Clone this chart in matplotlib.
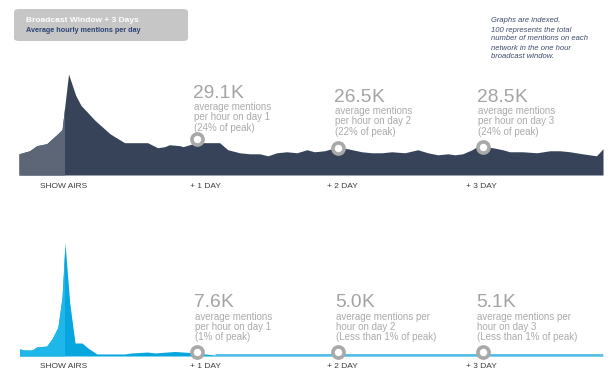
import matplotlib
matplotlib.use("Agg")
import matplotlib.pyplot as plt
from matplotlib.patches import FancyBboxPatch, Rectangle

plt.rcParams['font.family'] = ['Liberation Sans', 'DejaVu Sans']

W, H = 615, 384

# indexed mentions, hours relative to the show (0 = show airs)
top_hours = [-7.6, -5.8, -4.6, -2.9, -1.0, -0.3, 0.8, 2.0, 2.9, 5.3, 7.8, 8.6, 10.3,
             12.0, 14.2, 15.9, 17.1, 17.9, 19.7, 20.2, 21.9, 23.6, 26.4, 27.8, 29.8,
             31.5, 33.2, 34.6, 36.1, 37.8, 39.5, 41.2, 42.5, 44.2, 45.4, 46.4, 48.1,
             50.5, 52.2, 53.9, 55.6, 57.8, 60.0, 61.7, 63.4, 65.1, 66.3, 67.6, 69.2,
             70.0, 71.0, 72.7, 74.4, 75.6, 77.8, 80.2, 82.4, 84.1, 85.8, 87.9, 90.3, 91.4]
top_index = [21, 24, 29, 31, 41, 45, 100, 79, 69, 54, 41, 38, 32,
             32, 32, 27, 28, 30, 29, 28, 31, 32, 32, 25, 22,
             21, 21, 19, 22, 23, 22, 25, 23, 24, 26, 27, 26,
             23, 22, 22, 23, 22, 25, 22, 20, 21, 20, 21, 25,
             28, 28, 27, 25, 23, 23, 22, 24, 24, 23, 21, 19, 26]

bottom_hours = [-7.5, -6.6, -5.4, -4.6, -2.9, -1.9, -1.0, -0.3, 0.2, 1.0, 1.9, 3.1,
                4.1, 5.6, 10.3, 11.5, 14.2, 15.4, 18.8, 21.4, 23.1, 25.6, 91.4]
bottom_index = [6.2, 5.3, 5.3, 8.0, 8.8, 16.0, 25.7, 52.0, 100, 47.0, 11.5, 11.5,
                7.0, 1.8, 1.8, 2.7, 3.5, 2.7, 4.0, 3.1, 2.2, 0.9, 0.9]

marker_hours = [22.5, 46.4, 71.0]
top_marker_index = [36, 27, 28]
bottom_marker_index = [3.5, 3.5, 3.5]

top_values = ['29.1', '26.5', '28.5']
top_notes = [['average mentions', 'per hour on day 1', '(24% of peak)'],
             ['average mentions', 'per hour on day 2', '(22% of peak)'],
             ['average mentions', 'per hour on day 3', '(24% of peak)']]
bottom_values = ['7.6', '5.0', '5.1']
bottom_notes = [['average mentions', 'per hour on day 1', '(1% of peak)'],
                ['average mentions per', 'hour on day 2', '(Less than 1% of peak)'],
                ['average mentions per', 'hour on day 3', '(Less than 1% of peak)']]

tick_hours = [0, 24, 47.3, 70.8]
tick_labels = ['SHOW AIRS', '+ 1 DAY', '+ 2 DAY', '+ 3 DAY']

fig = plt.figure(figsize=(W / 100, H / 100), dpi=100)


def fx(x):
    return x / W


def fy(y):
    return 1 - y / H


def make_axes(base_px, peak_px):
    ax = fig.add_axes([fx(19), fy(base_px), 584 / W, (base_px - peak_px) / H])
    ax.set_xlim(-7.6, 91.4)
    ax.set_ylim(0, 100)
    ax.axis('off')
    return ax


# top chart
ax1 = make_axes(175, 74)
dark = ax1.fill_between(top_hours, 0, top_index, color='#364358', lw=0)
light = ax1.fill_between(top_hours, 0, top_index, color='#5c6677', lw=0)
light.set_clip_path(Rectangle((-10, -5), 10, 120, transform=ax1.transData))
ax1.plot(marker_hours, top_marker_index, 'o', ms=8, mfc='white', mec='#a9a9a9',
         mew=2.6, clip_on=False, zorder=5)

# bottom chart
ax2 = make_axes(356, 243)
ax2.fill_between(bottom_hours, 0, bottom_index, color='#07a6df', lw=0)
blight = ax2.fill_between(bottom_hours, 0, bottom_index, color='#1fb6ea', lw=0)
blight.set_clip_path(Rectangle((-10, -5), 10, 120, transform=ax2.transData))
ax2.plot([25.6, 91.4], [0.9, 0.9], color='#4fbbe8', lw=2, solid_capstyle='butt')
ax2.plot(marker_hours, bottom_marker_index, 'o', ms=8, mfc='white', mec='#a9a9a9',
         mew=2.6, clip_on=False, zorder=5)

# day labels under each chart
for ax, ypx in [(ax1, 186), (ax2, 366)]:
    for h, lab in zip(tick_hours, tick_labels):
        xpx = 19 + (h + 7.6) * 584 / 99.0
        fig.text(fx(xpx), fy(ypx), lab, fontsize=6, color='#3c3c3c',
                 ha='center', va='center')

# annotations
num_color = '#a3a3a3'
note_color = '#ababab'
r = fig.canvas.get_renderer()
top_left = [193, 334, 477]
top_base = [98, 102, 102]
for xl, yb, v, notes in zip(top_left, top_base, top_values, top_notes):
    t = fig.text(fx(xl), fy(yb), v, fontsize=13.8, color=num_color, va='baseline')
    wpx = t.get_window_extent(r).width
    fig.text(fx(xl + wpx), fy(yb), 'K', fontsize=13.8, color=num_color,
             va='baseline', fontweight='light')
    for i, line in enumerate(notes):
        fig.text(fx(xl + 1), fy(yb + 12 + 10.5 * i), line, fontsize=7,
                 color=note_color, va='baseline')

bottom_left = [194, 335, 476]
for xl, v, notes in zip(bottom_left, bottom_values, bottom_notes):
    t = fig.text(fx(xl), fy(307), v, fontsize=13.8, color=num_color, va='baseline')
    wpx = t.get_window_extent(r).width
    fig.text(fx(xl + wpx), fy(307), 'K', fontsize=13.8, color=num_color, va='baseline')
    for i, line in enumerate(notes):
        fig.text(fx(xl + 1), fy(320 + 10.2 * i), line, fontsize=7,
                 color=note_color, va='baseline')

# header box
box = FancyBboxPatch((fx(14), fy(41)), 174 / W, 32 / H,
                     boxstyle='round,pad=0,rounding_size=0.008',
                     transform=fig.transFigure, facecolor='#c6c6c6',
                     edgecolor='none')
fig.patches.append(box)
fig.text(fx(26), fy(21), 'Broadcast Window + 3 Days', fontsize=6, color='white',
         fontweight='bold', va='center')
fig.text(fx(26), fy(31), 'Average hourly mentions per day', fontsize=5.2,
         color='#2c4373', fontweight='bold', va='center')

# index note
note_lines = ['Graphs are indexed.', '100 represents the total',
              'number of mentions on each', 'network in the one hour',
              'broadcast window.']
for i, line in enumerate(note_lines):
    fig.text(fx(491), fy(21 + 9 * i), line, fontsize=5.5, color='#3b4a6b',
             style='italic', va='center')

fig.savefig('out.png', dpi=100)
